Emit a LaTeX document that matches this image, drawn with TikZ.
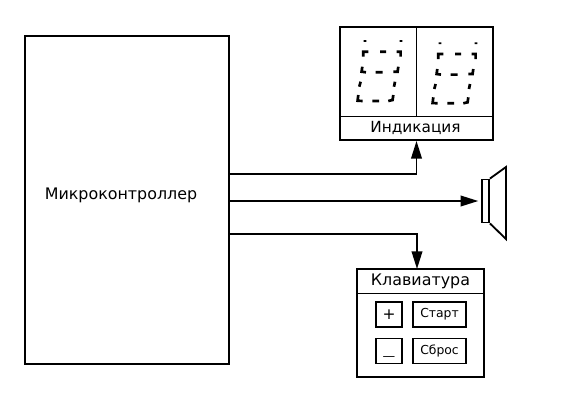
\documentclass[tikz,border=0pt]{standalone}
\usepackage{fontspec}
\setmainfont{DejaVu Sans}
\usetikzlibrary{arrows.meta,calc}

\begin{document}
\begin{tikzpicture}[
    x=0.025cm, y=-0.025cm,
    box/.style={rectangle, draw=black, line width=1.3pt, inner sep=0pt},
    lbl/.style={inner sep=0pt, font=\fontsize{11.3}{13}\selectfont},
    key/.style={box, minimum width=0.65cm, minimum height=0.625cm, font=\fontsize{11}{12}\selectfont},
    softkey/.style={box, minimum width=1.325cm, minimum height=0.625cm, font=\fontsize{8.8}{10}\selectfont},
    sep/.style={line width=0.7pt},
    arr/.style={-{Triangle[length=12.5pt,width=7.5pt]}, line width=1.3pt},
    digit/.pic={
        \draw [line width=1.9pt]
            (7.7,-0.9) -- (7.7,0.9)  (43.7,-0.9) -- (43.7,0.9)
            (6,15.7) -- (6,10.7) -- (11,10.7)  (22.7,10.7) -- (28.7,10.7)
            (39.3,10.7) -- (43.3,10.7) -- (43.3,15.7)
            (5,25.7) -- (4.3,30.7) -- (8.7,31.3)  (18.3,31.3) -- (25.3,31.3)
            (36,30.7) -- (40.3,30.7) -- (41,25.7)
            (3.3,40.7) -- (2,45.7)  (37.7,40.7) -- (36.7,45.7)
            (1,54) -- (0.3,59.7) -- (5.3,60)  (15,60) -- (21.7,60)
            (31,60) -- (35.3,59) -- (36,54);
    }
]
    \useasboundingbox (0,0) rectangle (561,409);

    % controller
    \node [box, minimum width=5.1cm, minimum height=8.2cm] (mcu) at (127,200) {};
    \node [lbl] (mcutext) at (121,195) {Микроконтроллер};

    % display
    \node [box, minimum width=3.825cm, minimum height=2.825cm] (ind) at (416.5,83.5) {};
    \node [lbl, font=\fontsize{10.9}{13}\selectfont] (indtext) at (415.5,128) {Индикация};
    \draw [sep] (ind.west |- 0,116) -- (ind.east |- 0,116);
    \draw [sep] (ind.north) -- (ind.north |- 0,116);
    \pic at (357.3,41) {digit};
    \pic at (432.3,43.3) {digit};

    % speaker
    \node [box, minimum width=0.175cm, minimum height=1.075cm] (spk) at (485.5,201) {};
    \draw [line width=1.3pt, line join=miter] (spk.north east) -- (506,167) -- (506,239) -- (spk.south east);

    % keyboard
    \node [box, minimum width=3.175cm, minimum height=2.7cm] (kbd) at (420.5,323) {};
    \node [lbl] (kbdtext) at (420.5,281) {Клавиатура};
    \draw [sep] (kbd.west |- 0,293) -- (kbd.east |- 0,293);
    \node [key] (plus) at (389,314.5) {+};
    \node [softkey] (start) at (439.5,314.5) {Старт};
    \node [key] (minus) at (389,351) {\raisebox{-7pt}[0pt][0pt]{\fontsize{9}{10}\selectfont —}};
    \node [softkey] (reset) at (439.5,351) {Сброс};

    % links
    \coordinate (out1) at (229,174);
    \coordinate (out2) at (229,201);
    \coordinate (out3) at (229,234);
    \coordinate (kbdin) at (417,269);

    \draw [arr] (out1) -| (ind.south);
    \draw [arr, shorten >=2pt] (out2) -- (spk.west);
    \draw [arr] (out3) -| (kbdin);
\end{tikzpicture}
\end{document}
